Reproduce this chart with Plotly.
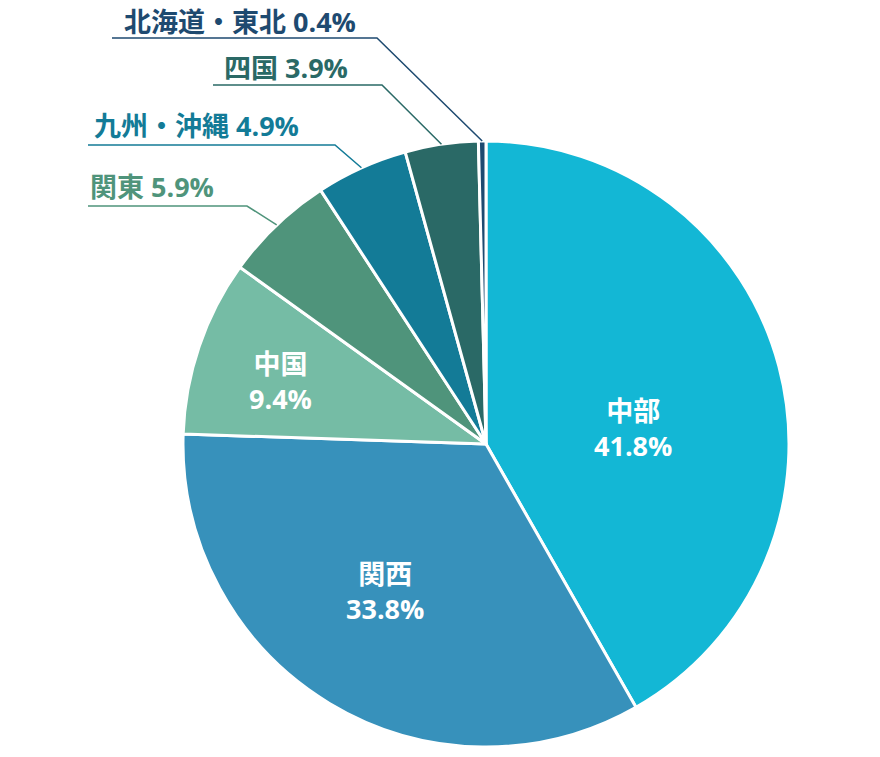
import math
import plotly.graph_objects as go

# regional shares (%)
regions = ['中部', '関西', '中国', '関東', '九州・沖縄', '四国', '北海道・東北']
shares = [41.8, 33.8, 9.4, 5.9, 4.9, 3.9, 0.4]
colors = ['#13b7d5', '#3791bb', '#75bca5', '#4f947b', '#137b97', '#2a6966', '#1e4a70']

W, H = 880, 757
OFF = 8                      # page body margin
FW, FH = W - 2 * OFF, H - 2 * OFF
CX, CY, R = 486, 444, 303    # pie centre / radius in window px


def px(x, y):
    # window pixel -> paper coords
    return (x - OFF) / FW, 1 - (y - OFF) / FH


def edge_point(i):
    # point on pie edge at the middle of slice i
    total = sum(shares)
    start = sum(shares[:i])
    frac = (start + shares[i] / 2) / total
    ang = 2 * math.pi * frac
    return CX + R * math.sin(ang), CY - R * math.cos(ang)


x0d, y1d = px(CX - R, CY - R)
x1d, y0d = px(CX + R, CY + R)

fig = go.Figure(go.Pie(
    labels=regions,
    values=shares,
    sort=False,
    direction='clockwise',
    marker=dict(colors=colors, line=dict(color='white', width=3)),
    textinfo='none',
    hovertemplate='%{label}: %{value}%<extra></extra>',
    domain=dict(x=[x0d, x1d], y=[y0d, y1d]),
    showlegend=False,
))

font_family = 'Open Sans, Noto Sans CJK JP'

# labels drawn inside the big slices
inside = {0: (633, 428), 1: (385, 591), 2: (280, 381)}
for i, (x, y) in inside.items():
    ax, ay = px(x, y)
    fig.add_annotation(
        x=ax, y=ay, xref='paper', yref='paper', showarrow=False,
        xanchor='center', yanchor='middle',
        text=f'{regions[i]}<br>{shares[i]}%',
        font=dict(family=font_family, size=27, color='white', weight='bold'),
    )

# labels outside with leader lines: text centre, line start x, line end x, line y
outside = {
    6: ((240, 22), 112, 377, 38),
    5: ((286, 68), 213, 382, 85),
    4: ((196, 125), 88, 335, 145),
    3: ((152, 187), 88, 247, 206),
}
for i, ((tx, ty), lx0, lx1, ly) in outside.items():
    ax, ay = px(tx, ty)
    fig.add_annotation(
        x=ax, y=ay, xref='paper', yref='paper', showarrow=False,
        xanchor='center', yanchor='middle',
        text=f'{regions[i]} {shares[i]}%',
        font=dict(family=font_family, size=27, color=colors[i], weight='bold'),
    )
    ex, ey = edge_point(i)
    pts = [px(lx0, ly), px(lx1, ly), px(ex, ey)]
    path = 'M {} {} L {} {} L {} {}'.format(*[c for p in pts for c in p])
    fig.add_shape(type='path', path=path, xref='paper', yref='paper',
                  line=dict(color=colors[i], width=1.5))

fig.update_layout(
    width=FW, height=FH,
    margin=dict(l=0, r=0, t=0, b=0),
    paper_bgcolor='white',
    plot_bgcolor='white',
)

fig.write_html('out.html')
